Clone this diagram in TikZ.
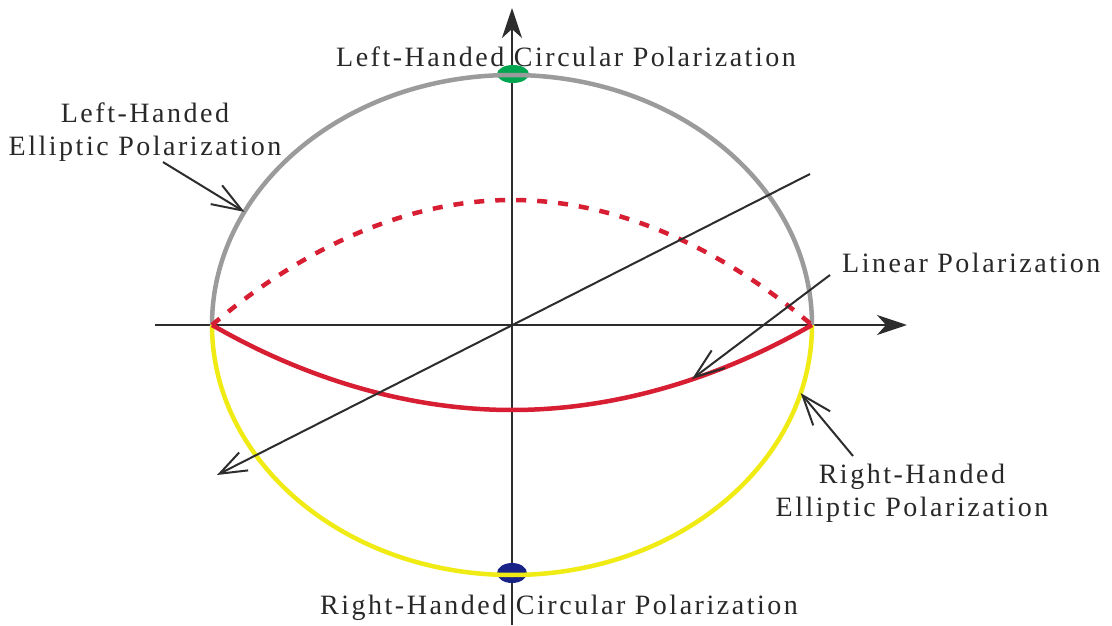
\documentclass[tikz,border=0pt]{standalone}
\usepackage{fontspec}
\setmainfont{Liberation Serif}[LetterSpace=9]
\usetikzlibrary{arrows.meta}
\definecolor{axisgray}{RGB}{45,45,45}
\definecolor{ellgray}{RGB}{155,155,155}
\definecolor{ellyellow}{RGB}{240,235,20}
\definecolor{polred}{RGB}{215,30,50}
\definecolor{dotgreen}{RGB}{0,165,80}
\definecolor{dotblue}{RGB}{25,35,135}
\definecolor{txt}{RGB}{40,40,40}
\begin{document}
\begin{tikzpicture}[x=1pt,y=1pt,
  lbl/.style={font=\fontsize{28}{33}\selectfont, text=txt, inner sep=0pt},
  axisline/.style={draw=axisgray, line width=2.8pt, -{Stealth[length=30pt,width=20pt,inset=9pt]}},
  diagline/.style={draw=axisgray, line width=2pt, -{Straight Barb[length=27pt,width=20pt]}},
  pointer/.style={draw=axisgray, line width=2pt, -{Straight Barb[length=30pt,width=22pt]}},
  outergray/.style={draw=ellgray, line width=4.5pt},
  outeryellow/.style={draw=ellyellow, line width=4.5pt},
  polsolid/.style={draw=polred, line width=4.5pt},
  poldashed/.style={draw=polred, line width=4.5pt, dash pattern=on 10pt off 11pt}]
\useasboundingbox (0,0) rectangle (1112,625);
\fill[white] (0,0) rectangle (1112,625);
% key points
\coordinate (O) at (512,300);
\coordinate (L) at (212,300);
\coordinate (R) at (812,300);
\coordinate (ybot) at (512,0);
\coordinate (ytop) at (512,617);
\coordinate (xleft) at (155,300);
\coordinate (xright) at (907,300);
\coordinate (dtop) at (810,451);
\coordinate (dtip) at (217,150);
% axes
\draw[axisline] (ybot) -- (ytop);
\draw[axisline] (xleft) -- (xright);
% poles
\fill[dotgreen] (513,551) ellipse[x radius=16, y radius=9];
\fill[dotblue] (512,52) ellipse[x radius=15, y radius=10];
% outer ellipse
\draw[outergray] (L) arc[start angle=180, end angle=0, x radius=300, y radius=250];
\draw[outeryellow] (L) arc[start angle=180, end angle=360, x radius=300, y radius=250];
% linear polarization curves
\draw[poldashed] (L) parabola bend (512,425) (R);
\draw[polsolid] (L) parabola bend (512,215) (R);
% diagonal axis
\draw[diagline] (dtop) -- (dtip);
% labels
\node[lbl, anchor=base] (lhc) at (566,558) {Left-Handed Circular Polarization};
\node[lbl, anchor=base] (rhc) at (559,11) {Right-Handed Circular Polarization};
\node[lbl, anchor=base west] (lin) at (842,352) {Linear Polarization};
\node[lbl, anchor=north, align=center] (lhe) at (145,522) {Left-Handed\\Elliptic Polarization};
\node[lbl, anchor=north, align=center] (rhe) at (912,161) {Right-Handed\\Elliptic Polarization};
% pointer targets
\coordinate (lhept) at ([shift={(O)}] 153.1:300 and 250);
\coordinate (rhept) at ([shift={(O)}] -15.8:300 and 250);
\coordinate (linpt) at (692,246);
% pointers
\draw[pointer] ([xshift=18pt]lhe.south) -- (lhept);
\draw[pointer] ([xshift=-59pt,yshift=8pt]rhe.north) -- (rhept);
\draw[pointer] ([xshift=-12pt,yshift=-2pt]lin.base west) -- (linpt);
\end{tikzpicture}
\end{document}
